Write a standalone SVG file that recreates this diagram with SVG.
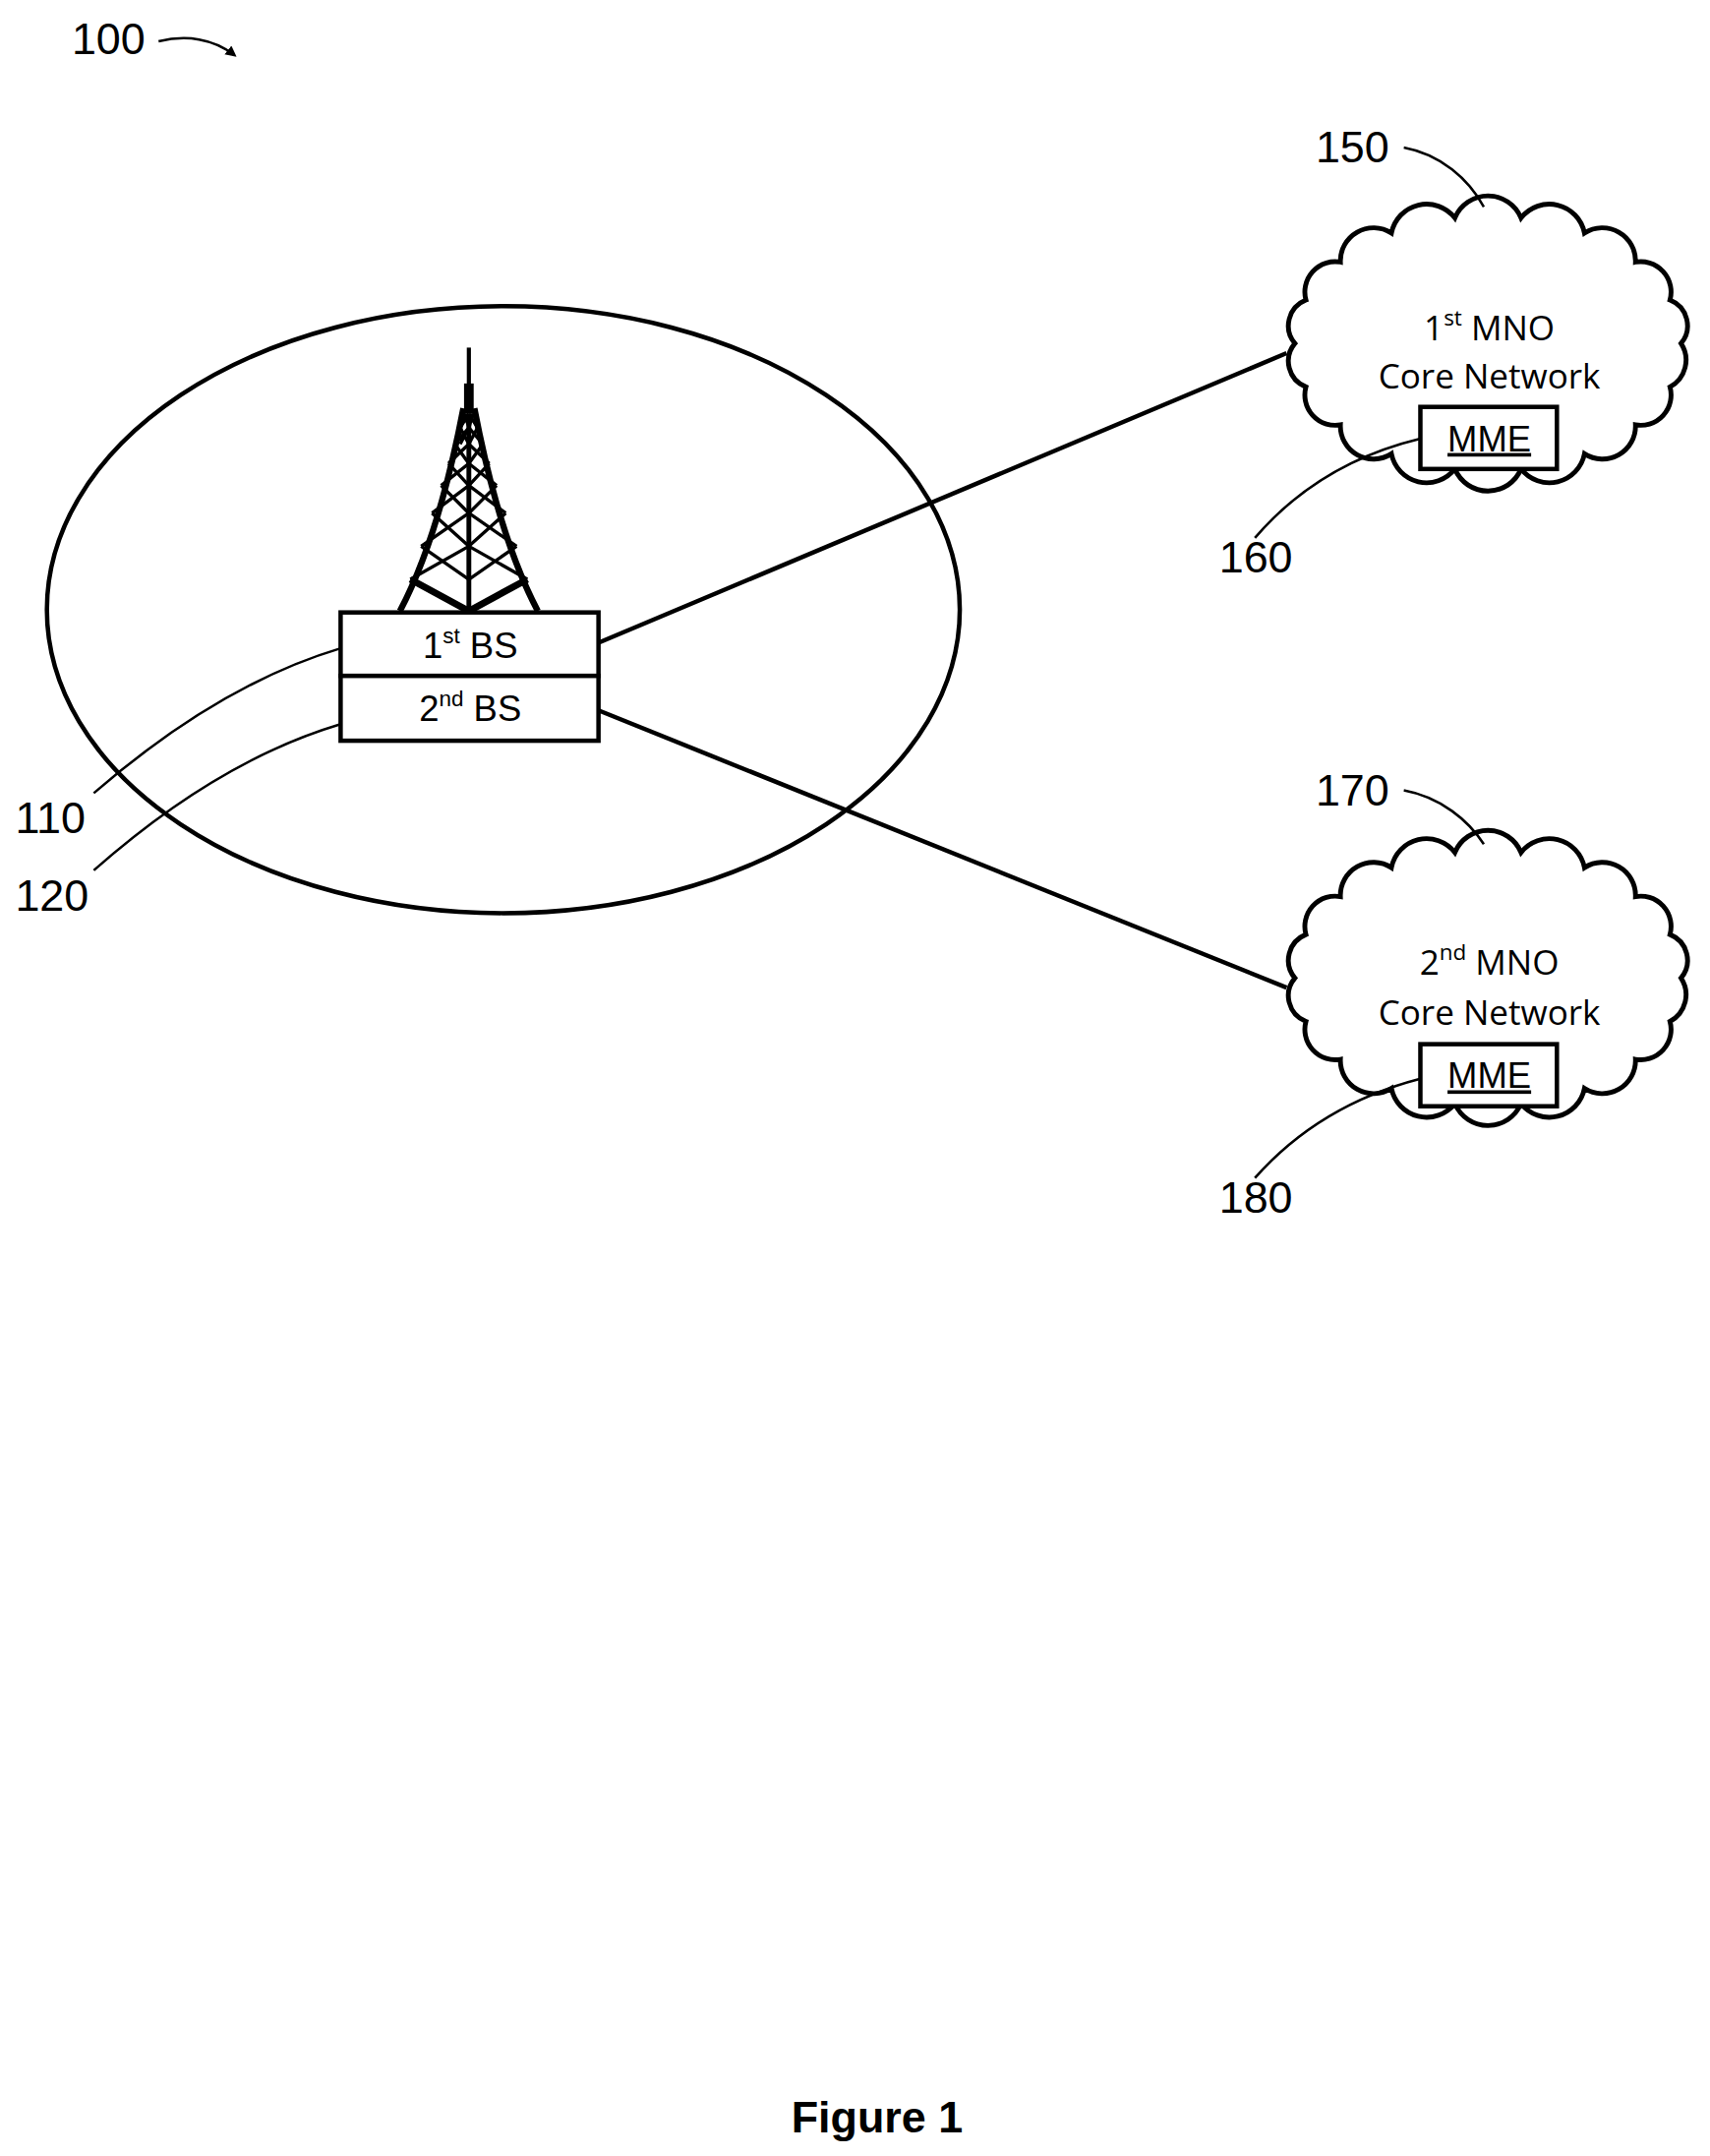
<svg xmlns="http://www.w3.org/2000/svg" width="1739" height="2192" viewBox="0 0 1739 2192">
<style>
.s{fill:none;stroke:#000;stroke-width:3.2}
.t{stroke:#000;stroke-width:1.8;fill:none}
.n{font-family:"Liberation Sans",Arial,sans-serif;font-size:32px;fill:#000}
.c{font-family:"Open Sans","Liberation Sans",sans-serif;font-size:25px;fill:#000;text-anchor:middle}
.b{font-family:"Liberation Sans",Arial,sans-serif;font-size:26px;fill:#000;text-anchor:middle}
</style>
<defs>
<marker id="ah" markerWidth="10" markerHeight="10" refX="6" refY="4" orient="auto" markerUnits="userSpaceOnUse"><path d="M0,0 L8,4 L0,8 Z" fill="#000"/></marker>
<path id="cloud" d="M1219,249 A22,22 0 0 1 1211,280.5 A22,22 0 0 1 1186,308 A24,24 0 0 1 1149,329 A26,26 0 0 1 1103,340 A26,26 0 0 1 1055,340 A26,26 0 0 1 1009,329 A24,24 0 0 1 972,308 A22,22 0 0 1 947,280.5 A20,20 0 0 1 939,249 A20,20 0 0 1 947,217.5 A22,22 0 0 1 972,190 A24,24 0 0 1 1009,169 A26,26 0 0 1 1055,158 A26,26 0 0 1 1103,158 A26,26 0 0 1 1149,169 A24,24 0 0 1 1186,190 A22,22 0 0 1 1211,217.5 A20,20 0 0 1 1219,249 Z" fill="#fff" stroke="#000" stroke-width="3.5"/>
</defs>
<rect width="1739" height="2192" fill="#fff"/>
<g transform="scale(1.4024)">
<g id="label100"><text class="n" x="52" y="39">100</text><path class="t" d="M115,30 C135,25 155,28 170,40" marker-end="url(#ah)"/></g>
<g id="cell"><ellipse cx="365" cy="442" rx="331" ry="220" class="s" stroke-width="3.6"/></g>
<g id="connectors">
<line x1="434" y1="466" x2="933" y2="256" class="s"/>
<line x1="434" y1="515" x2="933" y2="716" class="s"/>
</g>
<g id="tower" stroke="#000" fill="none">
<line x1="340" y1="252" x2="340" y2="284" stroke-width="3"/>
<line x1="340" y1="278" x2="340" y2="300" stroke-width="7"/>
<path d="M336,296 Q318,390 290,443" stroke-width="4.5"/>
<path d="M344,296 Q362,390 390,443" stroke-width="4.5"/>
<line x1="340" y1="300" x2="340" y2="443" stroke-width="3.5"/>
<path stroke-width="2.4" d="M337,300 L340,310 L333.7,322 M340,300 L333.7,310 M333.7,310 L340,322 M340,310 L329.8,322 M329.8,322 L340,336 M340,322 L325.2,336 M325.2,336 L340,352 M340,336 L319.9,352 M319.9,352 L340,372 M340,352 L313.3,372 M313.3,372 L340,396 M340,372 L305.4,396 M305.4,396 L340,420 M340,396 L297.6,420
M343,300 L340,310 M340,300 L346.3,310 M346.3,310 L340,322 M340,310 L350.2,322 M350.2,322 L340,336 M340,322 L354.8,336 M354.8,336 L340,352 M340,336 L360.1,352 M360.1,352 L340,372 M340,352 L366.7,372 M366.7,372 L340,396 M340,372 L374.6,396 M374.6,396 L340,420 M340,396 L382.4,420"/>
<path stroke-width="5" d="M297.6,420 L340,443 L382.4,420"/>
</g>
<g id="bs110"><rect x="247" y="444" width="187" height="46" fill="#fff" stroke="#000" stroke-width="3.2"/><text class="b" x="341" y="477">1<tspan font-size="16" dy="-11">st</tspan><tspan dy="11"> BS</tspan></text></g>
<g id="bs120"><rect x="247" y="490" width="187" height="47" fill="#fff" stroke="#000" stroke-width="3.2"/><text class="b" x="341" y="523">2<tspan font-size="16" dy="-11">nd</tspan><tspan dy="11"> BS</tspan></text></g>
<g id="label110"><text class="n" x="11" y="604">110</text><path class="t" d="M68,575 C120,530 180,490 247,470"/></g>
<g id="label120"><text class="n" x="11" y="660">120</text><path class="t" d="M68,631 C120,585 180,545 247,525"/></g>
<g id="cloud150"><use href="#cloud"/><text class="c" x="1080" y="247">1<tspan font-size="16" dy="-11">st</tspan><tspan dy="11"> MNO</tspan></text><text class="c" x="1080" y="282">Core Network</text></g>
<g id="mme160"><rect x="1030" y="295" width="99" height="45" fill="#fff" stroke="#000" stroke-width="3.2"/><text class="b" x="1080" y="327" text-decoration="underline">MME</text></g>
<g id="label150"><text class="n" x="954" y="118">150</text><path class="t" d="M1018,107 C1045,112 1065,130 1076,150"/></g>
<g id="label160"><text class="n" x="884" y="415">160</text><path class="t" d="M910,390 C940,355 980,330 1030,318"/></g>
<g transform="translate(0,460)">
<g id="cloud170"><use href="#cloud"/><text class="c" x="1080" y="247">2<tspan font-size="16" dy="-11">nd</tspan><tspan dy="11"> MNO</tspan></text><text class="c" x="1080" y="283">Core Network</text></g>
<g id="mme180"><rect x="1030" y="297" width="99" height="45" fill="#fff" stroke="#000" stroke-width="3.2"/><text class="b" x="1080" y="329" text-decoration="underline">MME</text></g>
<g id="label170"><text class="n" x="954" y="124">170</text><path class="t" d="M1018,113 C1045,118 1065,135 1076,152"/></g>
<g id="label180"><text class="n" x="884" y="419">180</text><path class="t" d="M910,394 C940,360 980,335 1030,322"/></g>
</g>
<text x="636" y="1546" font-family="Liberation Sans,Arial,sans-serif" font-weight="bold" font-size="32" text-anchor="middle">Figure 1</text>
</g>
</svg>
